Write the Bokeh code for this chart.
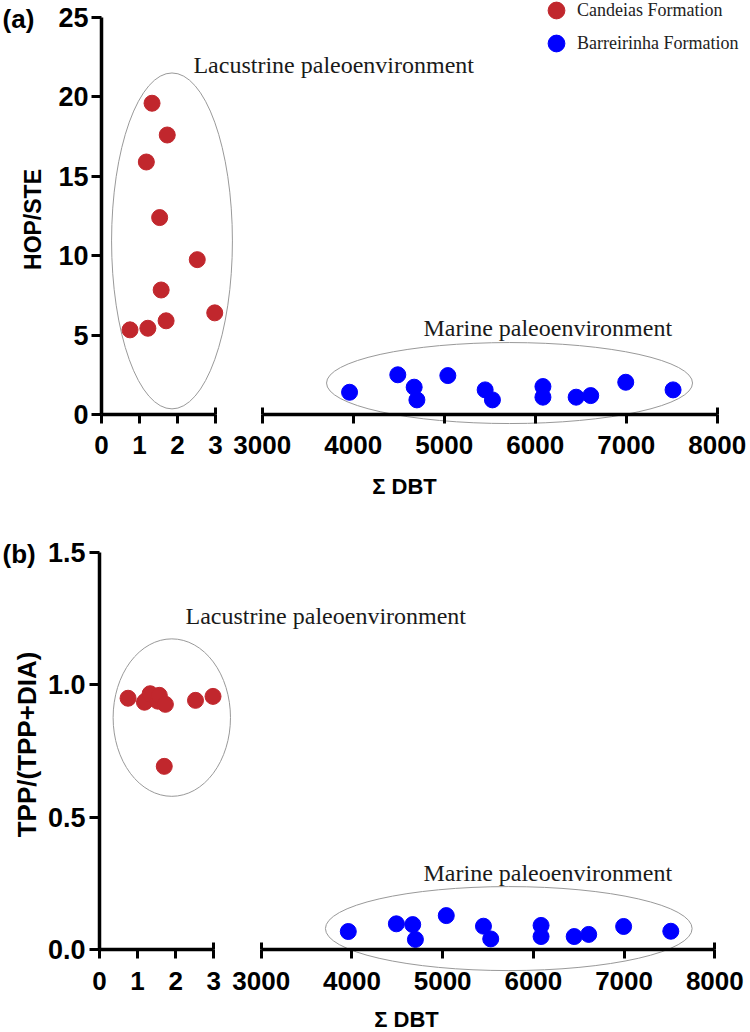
import math
from bokeh.plotting import figure
from bokeh.models import (LinearAxis, Range1d, FixedTicker, Label, Legend,
                          LegendItem, PrintfTickFormatter)
from bokeh.layouts import column
from bokeh.embed import file_html
from bokeh.resources import INLINE

# ---------------- data ----------------
candeias_dbt = [0.75, 1.18, 1.22, 1.33, 1.53, 1.57, 1.70, 1.73, 2.52, 2.98]
candeias_hop_ste = [5.33, 15.9, 5.43, 19.6, 12.4, 7.84, 5.90, 17.6, 9.75, 6.40]
candeias_tpp = [0.949, 0.934, 0.940, 0.966, 0.938, 0.960, 0.692, 0.926, 0.941, 0.956]

barreirinha_dbt = [3960, 4490, 4670, 4700, 5040, 5450, 5530, 6085, 6085, 6450, 6610, 6995, 7515]
barreirinha_hop_ste = [1.40, 2.50, 1.72, 0.92, 2.45, 1.55, 0.92, 1.76, 1.09, 1.09, 1.19, 2.03, 1.55]
barreirinha_tpp = [0.069, 0.098, 0.095, 0.039, 0.129, 0.089, 0.041, 0.092, 0.050, 0.050, 0.058, 0.088, 0.070]

x_ticks_low = [0, 1, 2, 3]
x_ticks_high = [3000, 4000, 5000, 6000, 7000, 8000]
y_ticks_a = [0, 5, 10, 15, 20, 25]
y_ticks_b = [0, 0.5, 1.0, 1.5]

# cluster ellipses (x, y, width, height)
lac_ellipse_a = (1.855, 10.93, 3.18, 21.16)
mar_ellipse_a = (5718, 1.98, 4022, 5.10)
lac_ellipse_b = (1.898, 0.876, 3.08, 0.594)
mar_ellipse_b = (5729, 0.080, 4042, 0.317)

RED = "#C1272D"
BLUE = "#0000FF"
ELL = "#999999"
SANS = "Liberation Sans"
SERIF = "Liberation Serif"


def style_axis(ax, tick_out=9, standoff=13, size="26px"):
    ax.axis_line_width = 3.5
    ax.axis_line_color = "black"
    ax.major_tick_line_width = 3
    ax.major_tick_line_color = "black"
    ax.major_tick_out = tick_out
    ax.major_tick_in = 0
    ax.minor_tick_line_color = None
    ax.major_label_text_font = SANS
    ax.major_label_text_font_style = "bold"
    ax.major_label_text_font_size = size
    ax.major_label_text_color = "black"
    ax.major_label_standoff = standoff


def make_panel(height, xlow_range, xhigh_range, y_range, ybounds,
               yticks, ylabel, ylabel_pos, ylabel_size, yfmt, ylab_standoff,
               red_y, blue_y, lac_e, mar_e, tag, tag_pos, lac_pos, mar_pos, dbt_pos):
    p = figure(width=750, height=height, output_backend="svg", toolbar_location=None,
               x_range=Range1d(*xlow_range), y_range=Range1d(*y_range),
               x_axis_type=None, y_axis_type=None,
               min_border_left=0, min_border_right=0,
               min_border_top=0, min_border_bottom=0)
    p.extra_x_ranges = {"dbt": Range1d(*xhigh_range)}
    p.outline_line_color = None
    p.background_fill_color = "white"
    p.border_fill_color = "white"

    # y axis drawn at x = 0
    yax = LinearAxis(ticker=FixedTicker(ticks=yticks), bounds=ybounds,
                     fixed_location=0)
    style_axis(yax, tick_out=10, standoff=ylab_standoff, size="27px")
    if yfmt:
        yax.formatter = PrintfTickFormatter(format=yfmt)
    p.add_layout(yax, "left")

    # broken x axis: two segments drawn at y = 0
    xlow = LinearAxis(ticker=FixedTicker(ticks=x_ticks_low), bounds=(0, 3),
                      fixed_location=0)
    style_axis(xlow)
    p.add_layout(xlow, "below")
    xhigh = LinearAxis(x_range_name="dbt", ticker=FixedTicker(ticks=x_ticks_high),
                       bounds=(3000, 8000), fixed_location=0)
    style_axis(xhigh)
    p.add_layout(xhigh, "below")
    # end caps of the segments
    for rname, ticks in (("default", [3]), ("dbt", [3000, 8000])):
        cap = LinearAxis(x_range_name=rname, ticker=FixedTicker(ticks=ticks),
                         fixed_location=0,
                         major_label_overrides={t: "" for t in ticks})
        style_axis(cap)
        cap.axis_line_color = None
        cap.major_tick_in = 7
        cap.major_tick_out = 0
        p.add_layout(cap, "below")

    # cluster ellipses
    p.ellipse(x=[lac_e[0]], y=[lac_e[1]], width=[lac_e[2]], height=[lac_e[3]],
              fill_color=None, line_color=ELL, line_width=1)
    p.ellipse(x=[mar_e[0]], y=[mar_e[1]], width=[mar_e[2]], height=[mar_e[3]],
              fill_color=None, line_color=ELL, line_width=1, x_range_name="dbt")

    r_red = p.scatter(candeias_dbt, red_y, size=16, fill_color=RED, line_color=RED)
    r_blue = p.scatter(barreirinha_dbt, blue_y, size=16, fill_color=BLUE,
                       line_color=BLUE, x_range_name="dbt")

    # annotations
    p.add_layout(Label(x=ylabel_pos[0], y=ylabel_pos[1], text=ylabel, angle=math.pi / 2,
                       text_font=SANS, text_font_style="bold", text_font_size=ylabel_size,
                       text_color="black", text_align="center", text_baseline="middle"))
    p.add_layout(Label(x=tag_pos[0], y=tag_pos[1], text=tag, text_font=SANS,
                       text_font_style="bold", text_font_size="26px",
                       text_baseline="middle", text_align="left", text_color="black"))
    p.add_layout(Label(x=lac_pos[0], y=lac_pos[1], text="Lacustrine paleoenvironment",
                       text_font=SERIF, text_font_size="24px", text_color="#1a1a1a",
                       text_baseline="middle", text_align="left"))
    p.add_layout(Label(x=mar_pos[0], y=mar_pos[1], x_range_name="dbt",
                       text="Marine paleoenvironment", text_font=SERIF,
                       text_font_size="24px", text_color="#1a1a1a",
                       text_baseline="middle", text_align="left"))
    p.add_layout(Label(x=dbt_pos[0], y=dbt_pos[1], x_range_name="dbt",
                       text="\u03a3 DBT", text_font=SANS, text_font_style="bold",
                       text_font_size="22px", text_color="black",
                       text_baseline="middle", text_align="center"))
    return p, r_red, r_blue


# Panel (a): canvas 750 x 536, y axis at x=101 px, y=0 at 414 px
pa, ra_red, ra_blue = make_panel(
    height=536, xlow_range=(-2.658, 17.079), xhigh_range=(124.2, 8365.9),
    y_range=(-7.683, 26.07), ybounds=(0, 25), yticks=y_ticks_a,
    ylabel="HOP/STE", ylabel_pos=(-1.80, 12.28), ylabel_size="23px",
    yfmt=None, ylab_standoff=3,
    red_y=candeias_hop_ste, blue_y=barreirinha_hop_ste,
    lac_e=lac_ellipse_a, mar_e=mar_ellipse_a,
    tag="(a)", tag_pos=(-2.605, 24.9),
    lac_pos=(2.42, 21.98), mar_pos=(4772.5, 5.42), dbt_pos=(4563.7, -4.53))

legend_kw = dict(orientation="vertical", glyph_width=42, glyph_height=42,
                 label_standoff=0, padding=0, margin=0, border_line_color=None,
                 background_fill_alpha=0, label_text_font=SERIF,
                 label_text_font_size="18px", label_text_color="#222222")
pa.add_layout(Legend(items=[LegendItem(label="Candeias Formation", renderers=[ra_red])],
                     location=(535, 505), **legend_kw))
pa.add_layout(Legend(items=[LegendItem(label="Barreirinha Formation", renderers=[ra_blue])],
                     location=(535, 472), **legend_kw))

# Panel (b): canvas 750 x 496, y axis at x=99 px, y=0 at 413 px (page 949)
pb, rb_red, rb_blue = make_panel(
    height=496, xlow_range=(-2.598, 17.087), xhigh_range=(126.3, 8393.5),
    y_range=(-0.312, 1.5592), ybounds=(0, 1.5), yticks=y_ticks_b,
    ylabel="TPP/(TPP+DIA)", ylabel_pos=(-1.89, 0.7745), ylabel_size="26px",
    yfmt="%.1f", ylab_standoff=4,
    red_y=candeias_tpp, blue_y=barreirinha_tpp,
    lac_e=lac_ellipse_b, mar_e=mar_ellipse_b,
    tag="(b)", tag_pos=(-2.546, 1.495),
    lac_pos=(2.257, 1.261), mar_pos=(4789, 0.2916), dbt_pos=(4601.6, -0.263))

layout = column(pa, pb, spacing=0)
open("out.html", "w").write(file_html(layout, INLINE))
